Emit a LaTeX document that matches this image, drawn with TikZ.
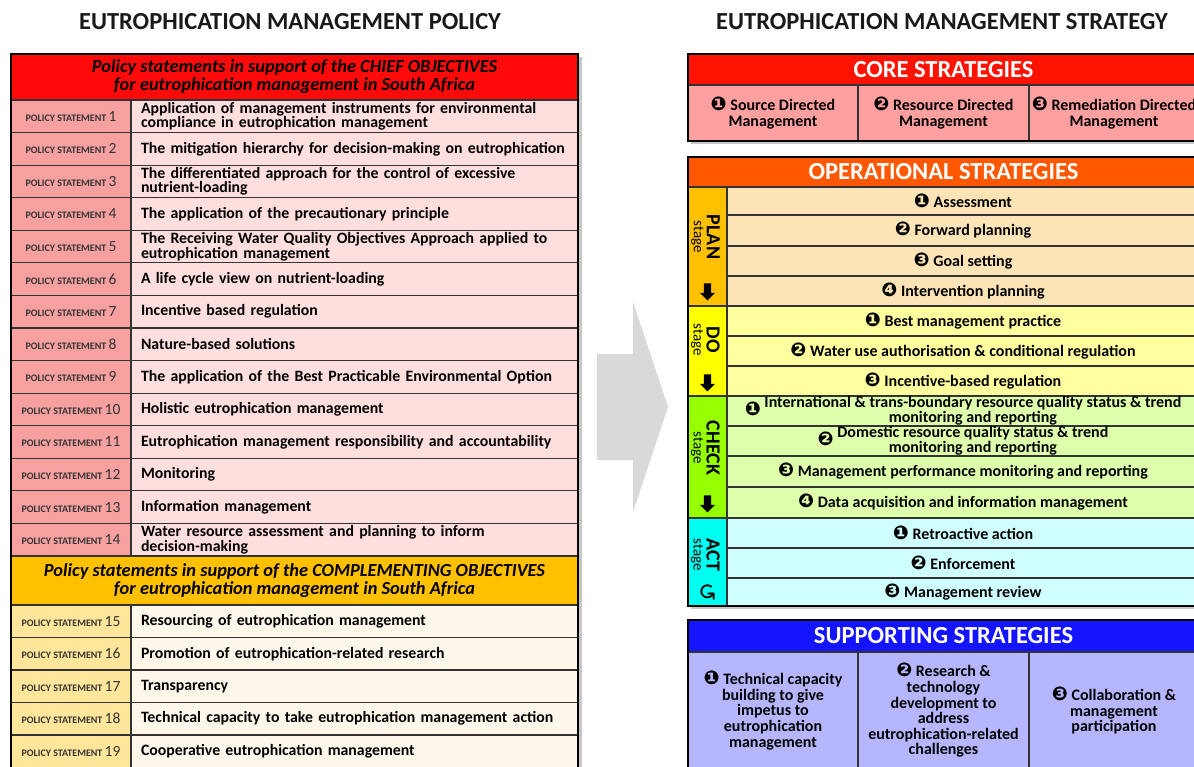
\documentclass[tikz,border=0pt]{standalone}
\usepackage{fontspec}
\setmainfont{Carlito}
\newfontfamily\dingfont{DejaVu Sans}
\usepackage{tikz}
\usetikzlibrary{shapes, shapes.arrows, positioning}

\definecolor{chiefred}{RGB}{255,10,10}
\definecolor{labred}{RGB}{246,160,160}
\definecolor{textred}{RGB}{255,222,222}
\definecolor{compyel}{RGB}{255,192,0}
\definecolor{labyel}{RGB}{255,230,155}
\definecolor{textyel}{RGB}{255,248,234}
\definecolor{corered}{RGB}{255,18,0}
\definecolor{corepink}{RGB}{255,160,160}
\definecolor{opred}{RGB}{255,88,0}
\definecolor{planst}{RGB}{255,192,0}
\definecolor{planrow}{RGB}{252,228,182}
\definecolor{dost}{RGB}{255,255,0}
\definecolor{dorow}{RGB}{255,255,160}
\definecolor{checkst}{RGB}{150,255,0}
\definecolor{checkrow}{RGB}{222,255,172}
\definecolor{actst}{RGB}{0,255,240}
\definecolor{actrow}{RGB}{208,255,255}
\definecolor{supblue}{RGB}{20,20,255}
\definecolor{suplav}{RGB}{182,182,255}
\definecolor{arrowgray}{RGB}{217,217,217}

\newcommand{\dg}[1]{{\dingfont\fontsize{19}{14}\selectfont #1}}
\newcommand{\psno}[1]{{\bfseries\fontsize{10}{10}\selectfont POLICY STATEMENT}~{\fontsize{15.5}{14}\selectfont #1}}

\begin{document}
\begin{tikzpicture}[x=1pt, y=-1pt,
  cell/.style={draw=black!80, line width=1.2pt, anchor=north west, inner sep=0pt, outer sep=0pt},
  pslab/.style={cell, fill=labred, minimum width=120pt, minimum height=32.57pt, text=black!80},
  pstext/.style={cell, fill=textred, minimum height=32.57pt, text width=427pt, inner xsep=10pt, align=left, font=\bfseries\fontsize{15.8}{13}\selectfont},
  cslab/.style={pslab, fill=labyel, minimum height=32.5pt},
  cstext/.style={pstext, fill=textyel, minimum height=32.5pt},
  objhead/.style={cell, minimum width=567pt, align=center, font=\bfseries\itshape\fontsize{18.4}{18}\selectfont},
  strathead/.style={cell, minimum width=511pt, align=center, text=white, font=\bfseries\fontsize{24.5}{26}\selectfont},
  core/.style={cell, fill=corepink, minimum height=56pt, align=center, font=\bfseries\fontsize{16}{16}\selectfont},
  stagecol/.style={cell, minimum width=39pt},
  stagelab/.style={rotate=-90, align=center, inner sep=0pt, font=\bfseries\fontsize{20}{14}\selectfont},
  oprow/.style={cell, minimum width=472pt, align=center, font=\bfseries\fontsize{16}{13}\selectfont},
  sup/.style={cell, fill=suplav, minimum height=117pt, align=center, font=\bfseries\fontsize{16}{15.6}\selectfont},
  frame/.style={draw=black, line width=2.5pt},
  shade/.style={fill=black!22},
  downarr/.style={single arrow, shape border rotate=270, fill=black, inner sep=3.4pt, minimum height=17pt, single arrow head extend=3.8pt, single arrow head indent=0pt},
  title/.style={font=\bfseries\fontsize{24.5}{28}\selectfont, text=black!90}]
\useasboundingbox (0,0) rectangle (1194,767);
\clip (0,0) rectangle (1194,767);

% titles
\node[title] (poltitle) at (290,22) {EUTROPHICATION MANAGEMENT POLICY};
\node[title] (strattitle) at (942,22) {EUTROPHICATION MANAGEMENT STRATEGY};

% shadows
\fill[shade] (14,57) rectangle (582,775);
\fill[shade] (691,57) rectangle (1202,144);
\fill[shade] (691,160) rectangle (1202,609);
\fill[shade] (691,623) rectangle (1202,775);

% policy table
\node[objhead, fill=chiefred, minimum height=46pt] (chief) at (11,54) {Policy statements in support of the CHIEF OBJECTIVES\\for eutrophication management in South Africa};
\node[pslab] (ps1l) at (11,100) {\psno{1}};
\node[pstext] (ps1) at (131,100) {Application of management instruments for environmental\\compliance in eutrophication management};
\node[pslab] (ps2l) at (11,132.57) {\psno{2}};
\node[pstext] (ps2) at (131,132.57) {The mitigation hierarchy for decision-making on eutrophication};
\node[pslab] (ps3l) at (11,165.14) {\psno{3}};
\node[pstext] (ps3) at (131,165.14) {The differentiated approach for the control of excessive\\nutrient-loading};
\node[pslab] (ps4l) at (11,197.71) {\psno{4}};
\node[pstext] (ps4) at (131,197.71) {The application of the precautionary principle};
\node[pslab] (ps5l) at (11,230.29) {\psno{5}};
\node[pstext] (ps5) at (131,230.29) {The Receiving Water Quality Objectives Approach applied to\\eutrophication management};
\node[pslab] (ps6l) at (11,262.86) {\psno{6}};
\node[pstext] (ps6) at (131,262.86) {A life cycle view on nutrient-loading};
\node[pslab] (ps7l) at (11,295.43) {\psno{7}};
\node[pstext] (ps7) at (131,295.43) {Incentive based regulation};
\node[pslab] (ps8l) at (11,328) {\psno{8}};
\node[pstext] (ps8) at (131,328) {Nature-based solutions};
\node[pslab] (ps9l) at (11,360.57) {\psno{9}};
\node[pstext] (ps9) at (131,360.57) {The application of the Best Practicable Environmental Option};
\node[pslab] (ps10l) at (11,393.14) {\psno{10}};
\node[pstext] (ps10) at (131,393.14) {Holistic eutrophication management};
\node[pslab] (ps11l) at (11,425.71) {\psno{11}};
\node[pstext] (ps11) at (131,425.71) {Eutrophication management responsibility and accountability};
\node[pslab] (ps12l) at (11,458.29) {\psno{12}};
\node[pstext] (ps12) at (131,458.29) {Monitoring};
\node[pslab] (ps13l) at (11,490.86) {\psno{13}};
\node[pstext] (ps13) at (131,490.86) {Information management};
\node[pslab] (ps14l) at (11,523.43) {\psno{14}};
\node[pstext] (ps14) at (131,523.43) {Water resource assessment and planning to inform\\decision-making};
\node[objhead, fill=compyel, minimum height=49pt] (comp) at (11,556) {Policy statements in support of the COMPLEMENTING OBJECTIVES\\for eutrophication management in South Africa};
\node[cslab] (ps15l) at (11,605) {\psno{15}};
\node[cstext] (ps15) at (131,605) {Resourcing of eutrophication management};
\node[cslab] (ps16l) at (11,637.5) {\psno{16}};
\node[cstext] (ps16) at (131,637.5) {Promotion of eutrophication-related research};
\node[cslab] (ps17l) at (11,670) {\psno{17}};
\node[cstext] (ps17) at (131,670) {Transparency};
\node[cslab] (ps18l) at (11,702.5) {\psno{18}};
\node[cstext] (ps18) at (131,702.5) {Technical capacity to take eutrophication management action};
\node[cslab] (ps19l) at (11,735) {\psno{19}};
\node[cstext] (ps19) at (131,735) {Cooperative eutrophication management};
\draw[frame] (11,54) rectangle (578,772);

% arrow
\fill[arrowgray] (597,354) -- (633,354) -- (633,302) -- (668,407) -- (633,512) -- (633,460) -- (597,460) -- cycle;

% core strategies
\node[strathead, fill=corered, minimum height=31pt] (corehead) at (688,54) {CORE STRATEGIES};
\node[core, minimum width=170pt] (core1) at (688,85) {\dg{❶} Source Directed\\Management};
\node[core, minimum width=171pt] (core2) at (858,85) {\dg{❷} Resource Directed\\Management};
\node[core, minimum width=170pt] (core3) at (1029,85) {\dg{❸} Remediation Directed\\Management};
\draw[frame] (688,54) rectangle (1199,141);

% operational strategies
\node[strathead, fill=opred, minimum height=30pt] (ophead) at (688,157) {OPERATIONAL STRATEGIES};
\node[stagecol, fill=planst, minimum height=119pt] (plan) at (688,187) {};
\node[stagecol, fill=dost, minimum height=90pt] (do) at (688,306) {};
\node[stagecol, fill=checkst, minimum height=122pt] (check) at (688,396) {};
\node[stagecol, fill=actst, minimum height=88pt] (act) at (688,518) {};
\node[stagelab] (planlab) at (705.5,237) {PLAN\\[-1pt]{\mdseries\fontsize{15}{12}\selectfont stage}};
\node[stagelab] (dolab) at (705.5,340) {DO\\[-1pt]{\mdseries\fontsize{15}{12}\selectfont stage}};
\node[stagelab] (checklab) at (705.5,448) {CHECK\\[-1pt]{\mdseries\fontsize{15}{12}\selectfont stage}};
\node[stagelab] (actlab) at (705.5,555) {ACT\\[-1pt]{\mdseries\fontsize{15}{12}\selectfont stage}};
\node[downarr] (planarr) at (707.5,290) {};
\node[downarr] (doarr) at (707.5,381) {};
\node[downarr] (checkarr) at (707.5,502) {};
\node[rotate=-90, inner sep=0pt] (actcyc) at (707.5,592) {\dingfont\fontsize{23}{23}\selectfont ↺};
\node[oprow, fill=planrow, minimum height=28pt] (plan1) at (727,187) {\dg{❶} Assessment};
\node[oprow, fill=planrow, minimum height=31pt] (plan2) at (727,215) {\dg{❷} Forward planning};
\node[oprow, fill=planrow, minimum height=30pt] (plan3) at (727,246) {\dg{❸} Goal setting};
\node[oprow, fill=planrow, minimum height=30pt] (plan4) at (727,276) {\dg{❹} Intervention planning};
\node[oprow, fill=dorow, minimum height=30pt] (do1) at (727,306) {\dg{❶} Best management practice};
\node[oprow, fill=dorow, minimum height=30pt] (do2) at (727,336) {\dg{❷} Water use authorisation \& conditional regulation};
\node[oprow, fill=dorow, minimum height=30pt] (do3) at (727,366) {\dg{❸} Incentive-based regulation};
\node[oprow, fill=checkrow, minimum height=30pt] (check1) at (727,396) {\dg{❶}~\begin{tabular}[c]{@{}c@{}}International \& trans-boundary resource quality status \& trend\\monitoring and reporting\end{tabular}};
\node[oprow, fill=checkrow, minimum height=30pt] (check2) at (727,426) {\dg{❷}~\begin{tabular}[c]{@{}c@{}}Domestic resource quality status \& trend\\monitoring and reporting\end{tabular}};
\node[oprow, fill=checkrow, minimum height=31pt] (check3) at (727,456) {\dg{❸} Management performance monitoring and reporting};
\node[oprow, fill=checkrow, minimum height=31pt] (check4) at (727,487) {\dg{❹} Data acquisition and information management};
\node[oprow, fill=actrow, minimum height=30pt] (act1) at (727,518) {\dg{❶} Retroactive action};
\node[oprow, fill=actrow, minimum height=30pt] (act2) at (727,548) {\dg{❷} Enforcement};
\node[oprow, fill=actrow, minimum height=28pt] (act3) at (727,578) {\dg{❸} Management review};
\draw[frame] (688,157) rectangle (1199,606);

% supporting strategies
\node[strathead, fill=supblue, minimum height=32pt] (suphead) at (688,620) {SUPPORTING STRATEGIES};
\node[sup, minimum width=170pt] (sup1) at (688,652) {\dg{❶} Technical capacity\\building to give\\impetus to\\eutrophication\\management};
\node[sup, minimum width=171pt] (sup2) at (858,652) {\dg{❷} Research \&\\technology\\development to\\address\\eutrophication-related\\challenges};
\node[sup, minimum width=170pt] (sup3) at (1029,652) {\dg{❸} Collaboration \&\\management\\participation};
\draw[frame] (688,620) rectangle (1199,772);
\end{tikzpicture}
\end{document}
